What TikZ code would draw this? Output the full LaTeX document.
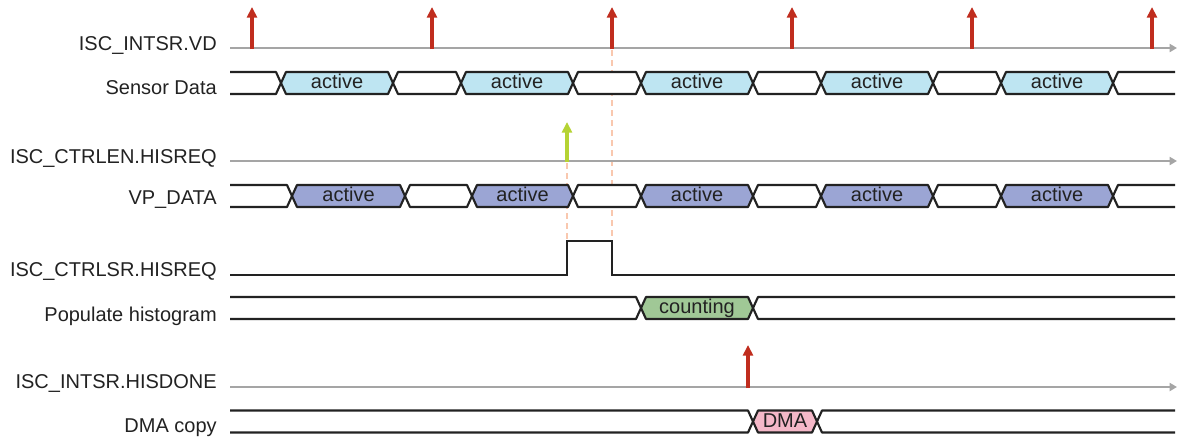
\documentclass[tikz,border=0pt]{standalone}
\usepackage{fontspec}
\setmainfont{Liberation Sans}
\usetikzlibrary{arrows.meta}
\definecolor{buscol}{RGB}{34,34,34}
\definecolor{axiscol}{RGB}{165,165,165}
\definecolor{txtcol}{RGB}{34,34,34}
\definecolor{sensfill}{RGB}{190,229,242}
\definecolor{vpfill}{RGB}{155,165,212}
\definecolor{cntfill}{RGB}{160,200,150}
\definecolor{dmafill}{RGB}{244,184,200}
\definecolor{evred}{RGB}{192,45,30}
\definecolor{evgreen}{RGB}{181,211,52}
\definecolor{dashcol}{RGB}{249,200,175}
\newcommand\bushex[4]{% a, b, mid, fill
  \filldraw[bus, fill=#4] ({#1},{#3}) -- ({#1+5},{#3-11}) -- ({#2-5},{#3-11}) -- ({#2},{#3}) -- ({#2-5},{#3+11}) -- ({#1+5},{#3+11}) -- cycle;}
\newcommand\busstart[2]{% b, mid
  \draw[bus] (230,{#2-11}) -- ({#1-5},{#2-11}) -- ({#1},{#2}) -- ({#1-5},{#2+11}) -- (230,{#2+11});}
\newcommand\busend[2]{% a, mid
  \draw[bus] (1175,{#2-11}) -- ({#1+5},{#2-11}) -- ({#1},{#2}) -- ({#1+5},{#2+11}) -- (1175,{#2+11});}
\begin{document}
\begin{tikzpicture}[x=0.75pt,y=-0.75pt,
  bus/.style={draw=buscol, line width=1.6pt, line join=round},
  axis/.style={draw=axiscol, line width=2pt, -{Triangle[width=6pt,length=5.5pt]}},
  level/.style={draw=buscol, line width=2.2pt, line join=miter},
  lbl/.style={anchor=base east, text=txtcol, font=\fontsize{15}{18}\selectfont, inner sep=0pt},
  bustext/.style={anchor=base, text=txtcol, font=\fontsize{15}{18}\selectfont, inner sep=0pt},
  evt/.style={line width=2.4pt, -{Triangle[width=7.5pt,length=8pt]}},
  guide/.style={draw=dashcol, line width=2pt, dash pattern=on 4.5pt off 3pt}]
\useasboundingbox (0,0) rectangle (1177,436);

% labels
\node[lbl] (lvd)   at (217,50)  {ISC\_INTSR.VD};
\node[lbl] (lsd)   at (217,94)  {Sensor Data};
\node[lbl] (len)   at (217,163) {ISC\_CTRLEN.HISREQ};
\node[lbl] (lvp)   at (217,204) {VP\_DATA};
\node[lbl] (lsr)   at (217,276) {ISC\_CTRLSR.HISREQ};
\node[lbl] (lpop)  at (217,321) {Populate histogram};
\node[lbl] (lhd)   at (217,388) {ISC\_INTSR.HISDONE};
\node[lbl] (ldma)  at (217,432) {DMA copy};

% dashed guides
\coordinate (g1top) at (567,163);
\coordinate (g1bot) at (567,241);
\coordinate (g2top) at (612,50);
\coordinate (g2bot) at (612,241);
\draw[guide] (g1top) -- (g1bot);
\draw[guide] (g2top) -- (g2bot);

% Sensor Data bus
\busstart{281}{83}
\bushex{281}{393}{83}{sensfill}
\bushex{393}{461}{83}{white}
\bushex{461}{573}{83}{sensfill}
\bushex{573}{641}{83}{white}
\bushex{641}{753}{83}{sensfill}
\bushex{753}{821}{83}{white}
\bushex{821}{933}{83}{sensfill}
\bushex{933}{1001}{83}{white}
\bushex{1001}{1113}{83}{sensfill}
\busend{1113}{83}
\foreach \a/\b/\n in {281/393/1,461/573/2,641/753/3,821/933/4,1001/1113/5}
  \node[bustext] (sd\n) at ({(\a+\b)/2},88) {active};

% VP_DATA bus
\busstart{292}{196}
\bushex{292}{405}{196}{vpfill}
\bushex{405}{472}{196}{white}
\bushex{472}{573}{196}{vpfill}
\bushex{573}{641}{196}{white}
\bushex{641}{753}{196}{vpfill}
\bushex{753}{821}{196}{white}
\bushex{821}{933}{196}{vpfill}
\bushex{933}{1001}{196}{white}
\bushex{1001}{1113}{196}{vpfill}
\busend{1113}{196}
\foreach \a/\b/\n in {292/405/1,472/573/2,641/753/3,821/933/4,1001/1113/5}
  \node[bustext] (vp\n) at ({(\a+\b)/2},201) {active};

% Populate histogram bus
\busstart{641}{308}
\bushex{641}{753}{308}{cntfill}
\busend{753}{308}
\node[bustext] (cnt) at (697,313) {counting};

% DMA copy bus
\busstart{753}{421.5}
\bushex{753}{817}{421.5}{dmafill}
\busend{817}{421.5}
\node[bustext] (dma) at (785,427.5) {DMA};

% ISC_CTRLSR.HISREQ level
\draw[level] (230,275) -- (567,275) -- (567,241) -- (612,241) -- (612,275) -- (1175,275);

% axes
\coordinate (vdS) at (230,48);   \coordinate (vdE) at (1177,48);
\coordinate (enS) at (230,161);  \coordinate (enE) at (1177,161);
\coordinate (hdS) at (230,387);  \coordinate (hdE) at (1177,387);
\draw[axis] (vdS) -- (vdE);
\draw[axis] (enS) -- (enE);
\draw[axis] (hdS) -- (hdE);

% events
\foreach \x/\n in {252/1,432/2,612/3,792/4,972/5,1152/6}{
  \coordinate (vdb\n) at (\x,49);
  \coordinate (vdt\n) at (\x,7);
  \draw[evt, draw=evred, fill=evred] (vdb\n) -- (vdt\n);
}
\coordinate (enb) at (567,162);
\coordinate (ent) at (567,122);
\draw[evt, draw=evgreen, fill=evgreen] (enb) -- (ent);
\coordinate (hdb) at (748,388);
\coordinate (hdt) at (748,345);
\draw[evt, draw=evred, fill=evred] (hdb) -- (hdt);
\end{tikzpicture}
\end{document}
